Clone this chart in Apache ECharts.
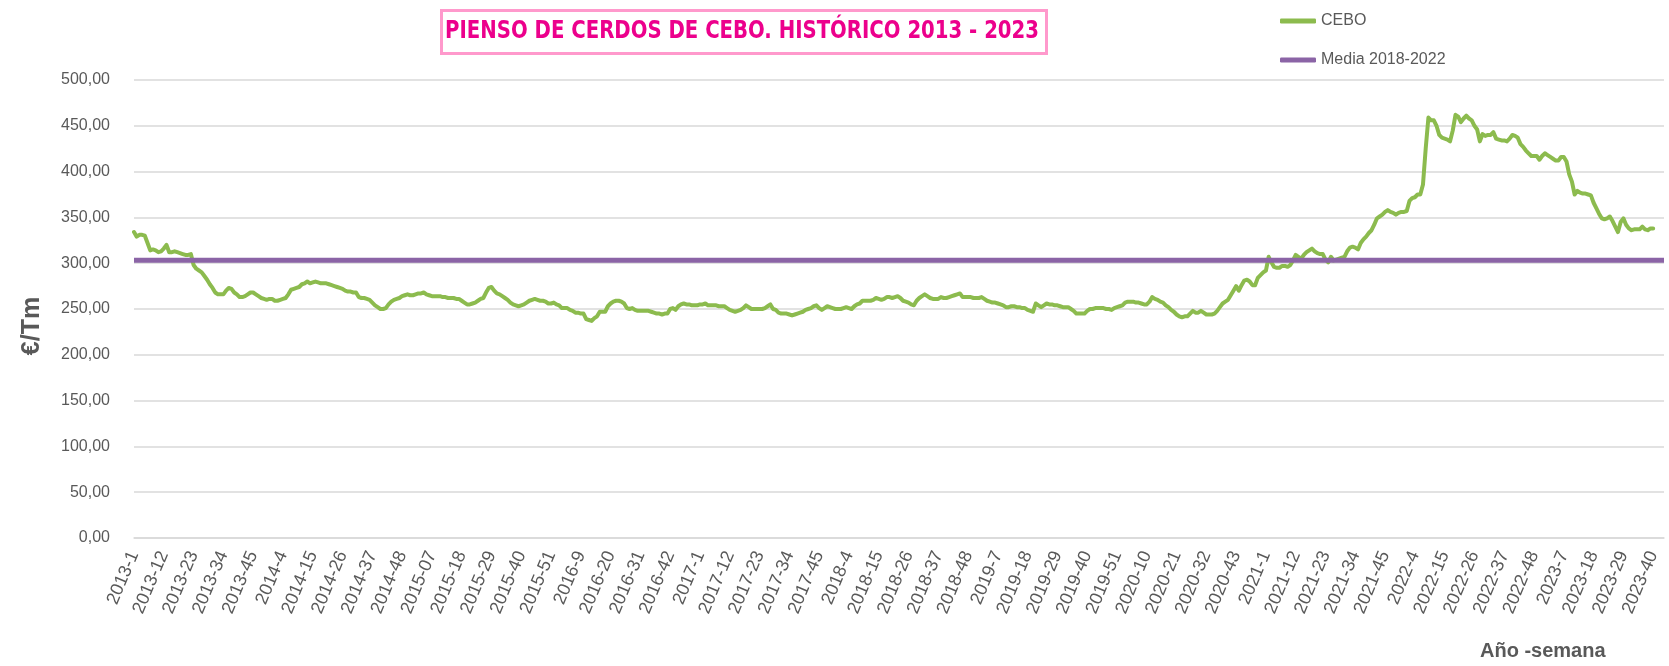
<!DOCTYPE html>
<html>
<head>
<meta charset="utf-8">
<script src="https://cdn.jsdelivr.net/npm/echarts@6/dist/echarts.min.js"></script>
<style>html,body{margin:0;padding:0;background:#fff}#c{width:1669px;height:666px}</style>
</head>
<body>
<div id="c"></div>
<script>
// Week counts per year on the category axis (2023 has 4 trailing empty weeks)
const years = [2013, 2014, 2015, 2016, 2017, 2018, 2019, 2020, 2021, 2022, 2023];
const weeksPerYear = [52, 52, 53, 52, 52, 52, 52, 53, 52, 52, 44];
const yTicks = [0, 50, 100, 150, 200, 250, 300, 350, 400, 450, 500];

// CEBO weekly price (€/Tm), one array per year
const cebo2013 = [334,329,331,331,330,322,314,315,314,312,313,316,320,312,312,313,312,311,310,309,309,310,298,294,292,290,286,282,277,273,268,266,266,266,270,273,272,268,266,263,263,264,266,268,268,266,264,262,261,260,261,261];
const cebo2014 = [259,259,260,261,262,266,271,272,273,274,277,278,280,278,279,280,279,278,278,278,277,276,275,274,273,272,270,269,269,268,268,263,262,262,261,260,257,254,252,250,250,251,255,258,260,261,262,264,265,266,265,265];
const cebo2015 = [266,267,267,268,266,265,264,264,264,264,263,263,262,262,262,261,261,259,257,255,255,256,257,259,261,262,268,273,274,270,267,266,264,262,260,257,255,254,253,254,255,257,259,260,261,260,259,259,258,256,256,257,255];
const cebo2016 = [254,251,251,251,249,248,246,246,245,245,239,238,237,240,242,247,247,247,253,256,258,259,259,258,256,251,250,251,249,248,248,248,248,248,247,246,245,245,244,245,245,250,251,249,253,255,256,255,255,254,254,254];
const cebo2017 = [255,255,256,254,254,254,254,253,253,253,251,249,248,247,248,249,251,254,252,250,250,250,250,250,251,253,255,250,249,246,245,245,245,244,243,244,245,246,247,249,250,251,253,254,251,249,251,253,252,251,250,250];
const cebo2018 = [250,251,252,251,250,253,255,256,259,259,259,259,260,262,261,260,261,263,263,262,263,264,262,259,258,257,255,254,259,262,264,266,264,262,261,261,261,263,262,262,263,264,265,266,267,263,263,263,263,262,262,262];
const cebo2019 = [263,261,259,258,257,257,256,255,254,252,252,253,253,252,252,251,251,249,248,247,256,254,252,254,256,255,255,254,254,253,252,252,252,250,248,245,245,245,245,248,250,250,251,251,251,251,250,250,249,251,252,253];
const cebo2020 = [254,257,258,258,258,257,257,256,255,255,258,263,261,260,258,257,254,252,249,247,244,242,241,242,242,245,248,246,246,248,246,244,244,244,245,248,252,256,258,260,265,270,275,270,276,281,282,280,276,276,284,287,290];
const cebo2021 = [292,307,301,296,295,295,297,297,296,298,303,309,307,305,309,312,314,316,313,311,310,310,304,301,307,303,304,305,306,307,313,317,318,317,315,322,326,329,333,336,342,349,351,353,356,358,356,355,353,355,356,356];
const cebo2022 = [357,368,371,372,375,375,386,425,459,456,456,450,440,437,436,435,433,445,462,460,454,458,461,458,456,450,446,433,441,439,440,440,443,436,435,434,434,433,436,440,439,437,430,427,423,420,417,417,417,413,417,420];
const cebo2023 = [418,416,414,412,412,416,416,411,397,389,375,379,377,376,376,375,374,366,360,354,349,348,349,351,346,340,334,345,349,342,338,336,337,337,337,340,337,336,338,338];

// Average 2018-2022 (constant reference level)
const media = 303.3;

const ceboByYear = [cebo2013, cebo2014, cebo2015, cebo2016, cebo2017, cebo2018, cebo2019, cebo2020, cebo2021, cebo2022, cebo2023];

const categories = [];
years.forEach((y, i) => {
  for (let w = 1; w <= weeksPerYear[i]; w++) {
    const wk = (y === 2015 && w < 10) ? '0' + w : String(w);
    categories.push(y + '-' + wk);
  }
});
const ceboData = [].concat(...ceboByYear);
const mediaData = categories.map(() => media);

const grey = '#595959';
const sans = '"Liberation Sans", Arial, sans-serif';
const chart = echarts.init(document.getElementById('c'), null, {renderer: 'canvas'});
chart.setOption({
  animation: false,
  backgroundColor: '#ffffff',
  legend: {
    orient: 'vertical',
    left: 1275, top: 8,
    itemWidth: 36, itemHeight: 5, itemGap: 23,
    icon: 'roundRect',
    textStyle: {color: grey, fontSize: 16, lineHeight: 16, fontFamily: sans},
    data: ['CEBO', 'Media 2018-2022']
  },
  grid: {left: 134, right: 5, top: 80, bottom: 128, containLabel: false},
  xAxis: {
    type: 'category',
    data: categories,
    boundaryGap: false,
    axisTick: {show: false},
    axisLine: {lineStyle: {color: '#D9D9D9', width: 1.5}},
    axisLabel: {
      interval: 10, rotate: 67, color: grey, fontSize: 18, margin: 14, fontFamily: sans
    },
    splitLine: {show: false}
  },
  yAxis: {
    type: 'value',
    min: 0, max: 500, interval: 50,
    axisLine: {show: false},
    axisTick: {show: false},
    axisLabel: {
      color: grey, fontSize: 16, margin: 24, fontFamily: sans,
      formatter: v => yTicks.includes(v) ? v.toFixed(2).replace('.', ',') : ''
    },
    splitLine: {lineStyle: {color: '#D9D9D9', width: 1.5}}
  },
  graphic: [
    {
      type: 'rect', left: 440, top: 9, z: 10,
      shape: {width: 605, height: 43},
      style: {fill: '#ffffff', stroke: '#FF99CC', lineWidth: 3}
    },
    {
      type: 'text', x: 742, y: 31, scaleX: 0.876, z: 11,
      style: {text: 'PIENSO DE CERDOS DE CEBO. HISTÓRICO 2013 - 2023',
        align: 'center', verticalAlign: 'middle',
        fill: '#EC008C', fontSize: 25, fontWeight: 'bold',
        fontFamily: '"DejaVu Sans Condensed", "DejaVu Sans", sans-serif'}
    },
    {
      type: 'text', x: 32, y: 326, rotation: Math.PI / 2, z: 11,
      style: {text: '€/Tm', align: 'center', verticalAlign: 'middle',
        fill: grey, fontSize: 25, fontWeight: 'bold', fontFamily: sans}
    },
    {
      type: 'text', left: 1480, top: 641, z: 11,
      style: {text: 'Año -semana', fill: grey, fontSize: 20, fontWeight: 'bold', fontFamily: sans}
    }
  ],
  series: [
    {
      name: 'CEBO', type: 'line', data: ceboData,
      showSymbol: false, symbol: 'none',
      lineStyle: {color: '#8CBB4E', width: 4, cap: 'round', join: 'round'},
      itemStyle: {color: '#8CBB4E'},
      z: 2
    },
    {
      name: 'Media 2018-2022', type: 'line', data: mediaData,
      showSymbol: false, symbol: 'none',
      lineStyle: {color: '#8B64A6', width: 5},
      itemStyle: {color: '#8B64A6'},
      z: 3
    }
  ]
});
</script>
</body>
</html>
